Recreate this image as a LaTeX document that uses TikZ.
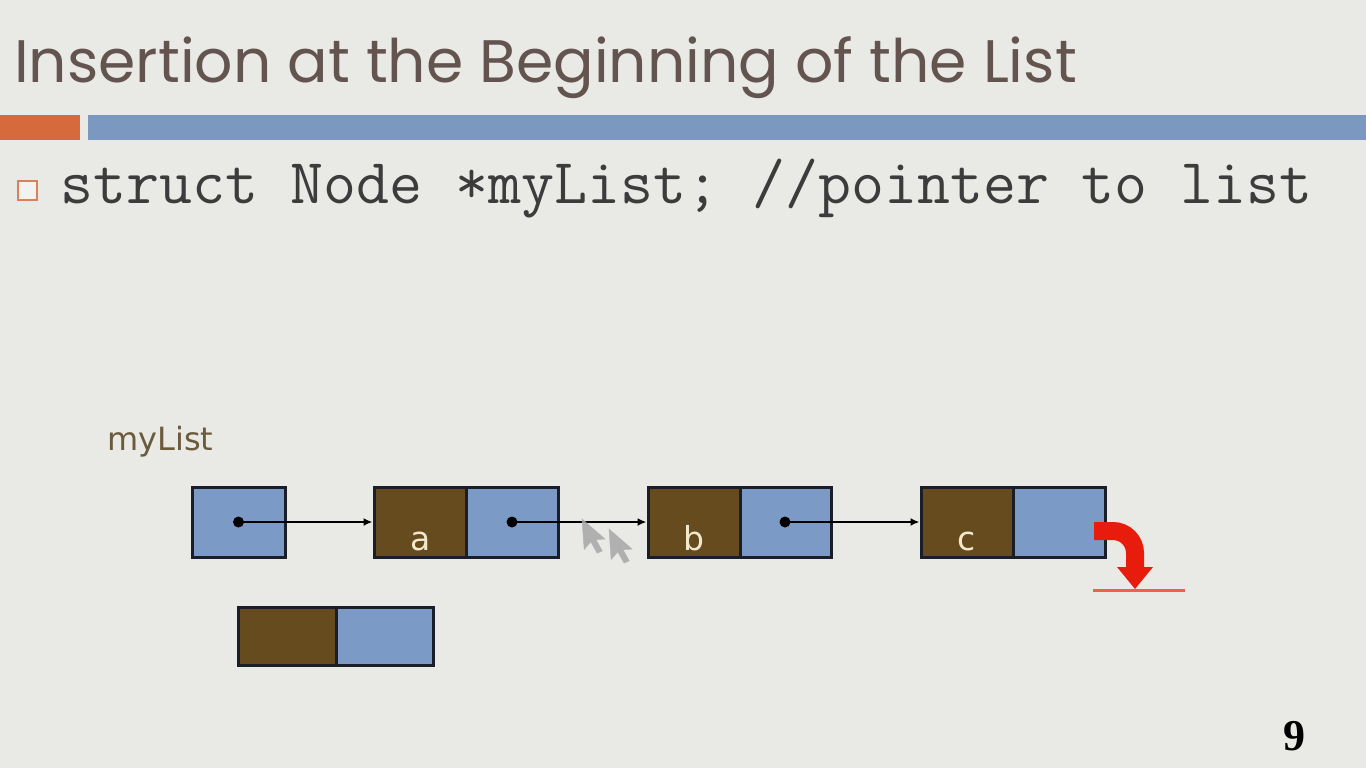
\documentclass[tikz,border=0pt]{standalone}
\usepackage{fontspec}
\setmainfont{Liberation Serif}
\newfontfamily\titlefont{Poppins}
\newfontfamily\labelfont{DejaVu Sans}
\usetikzlibrary{arrows.meta}
\definecolor{bg}{HTML}{E9EAE6}
\definecolor{titlec}{HTML}{64544F}
\definecolor{barorange}{HTML}{D66A3C}
\definecolor{barblue}{HTML}{7A98C0}
\definecolor{ptrblue}{HTML}{7B9AC6}
\definecolor{databrown}{HTML}{654B1E}
\definecolor{edgec}{HTML}{1A1E28}
\definecolor{codec}{HTML}{3C3C3C}
\definecolor{mylistc}{HTML}{6B5A3C}
\definecolor{lettc}{HTML}{F2E8CC}
\definecolor{redarrow}{HTML}{E81C0C}
\definecolor{redline}{HTML}{F0604A}
\tikzset{
  cellbox/.style={draw=edgec, line width=3pt, inner sep=0pt, minimum height=70pt},
  ptrcell/.style={cellbox, fill=ptrblue},
  datacell/.style={cellbox, fill=databrown},
  link/.style={line width=2.4pt, draw=black, -{Latex[length=9pt,width=8pt]}},
  dotc/.style={circle, fill=black, inner sep=0pt, minimum size=11pt},
  cursor/.style={fill=gray!70, draw=gray!60, line width=0.5pt, opacity=0.85},
  lett/.style={text=lettc, inner sep=0pt, anchor=base, font=\labelfont\fontsize{33}{33}\selectfont}
}
\begin{document}
\begin{tikzpicture}[x=1pt,y=-1pt]
\useasboundingbox (0,0) rectangle (1366,768);
\fill[bg] (0,0) rectangle (1366,768);
% title
\node[anchor=base west, inner sep=0pt, text=titlec] (title) at (14,82)
  {\titlefont\fontsize{60}{60}\selectfont Insertion at the Beginning of the List};
% bars
\fill[barorange] (0,115) rectangle (80,140);
\fill[barblue] (88,115) rectangle (1366,140);
% bullet
\node[draw=barorange!85, fill=bg!60!white, line width=2pt, minimum size=19pt, inner sep=0pt] (bullet) at (27,190) {};
\node[anchor=base west, inner sep=0pt, text=codec] (code) at (60,203)
  {\ttfamily\fontsize{64}{64}\selectfont struct Node *myList; //pointer to list};
% myList label
\node[anchor=base west, inner sep=0pt, text=mylistc] (mylist) at (107,450)
  {\labelfont\fontsize{32}{32}\selectfont myList};
% head pointer
\node[ptrcell, minimum width=93pt] (head) at (238.5,522) {};
% node a
\node[datacell, minimum width=92pt] (aD) at (420,522) {};
\node[ptrcell, minimum width=92pt] (aP) at (512,522) {};
% node b
\node[datacell, minimum width=92pt] (bD) at (694,522) {};
\node[ptrcell, minimum width=91pt] (bP) at (785.5,522) {};
% node c
\node[datacell, minimum width=92pt] (cD) at (967,522) {};
\node[ptrcell, minimum width=92pt] (cP) at (1059,522) {};
% letters
\node[lett] (la) at (421,550) {a};
\node[lett] (lb) at (694,550) {b};
\node[lett] (lc) at (967,550) {c};
% new node
\node[datacell, minimum width=98pt, minimum height=58pt] (nD) at (287,636) {};
\node[ptrcell, minimum width=97pt, minimum height=58pt] (nP) at (384.5,636) {};
% links
\node[dotc] (d0) at (238.5,522) {};
\node[dotc] (d1) at (512,522) {};
\node[dotc] (d2) at (785,522) {};
\draw[link] (d0.center) -- (aD.west);
\draw[link] (d1.center) -- (bD.west);
\draw[link] (d2.center) -- (cD.west);
% cursors
\begin{scope}[shift={(582,519)}, scale=1.8, rotate=4]
\path[cursor] (0,0) -- (0,17) -- (4,13) -- (7,19.5) -- (10,18.5) -- (7,12) -- (12,12) -- cycle;
\end{scope}
\begin{scope}[shift={(609,529)}, scale=1.8, rotate=4]
\path[cursor] (0,0) -- (0,17) -- (4,13) -- (7,19.5) -- (10,18.5) -- (7,12) -- (12,12) -- cycle;
\end{scope}
% null pointer red arrow
\coordinate (rstart) at (1094,531);
\coordinate (rend) at (1135,569);
\draw[redline, line width=3pt] (1093,590) -- (1185,590);
\draw[redarrow, line width=18pt] (rstart) -- (1113,531) arc[start angle=-90, end angle=0, radius=22] -- (rend);
\fill[redarrow] (1117,567) -- (1153,567) -- (1135,589) -- cycle;
% page number
\node[anchor=base, inner sep=0pt] (pnum) at (1294,750) {\fontsize{44}{44}\selectfont\bfseries 9};
\end{tikzpicture}
\end{document}
